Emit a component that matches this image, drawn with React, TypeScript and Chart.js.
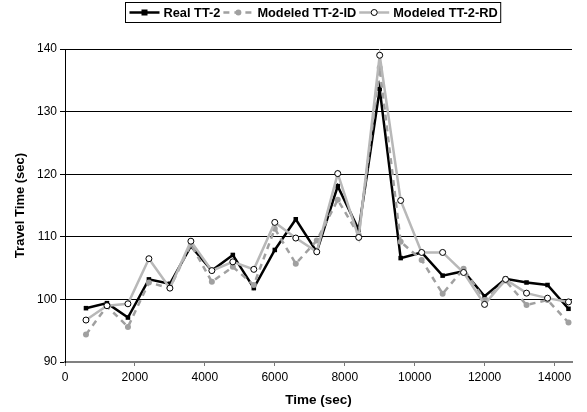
import React, { useEffect, useRef } from "react";
import { Chart, registerables } from "chart.js";

Chart.register(...registerables);

const times = [600, 1200, 1800, 2400, 3000, 3600, 4200, 4800, 5400, 6000, 6600, 7200, 7800, 8400, 9000, 9600, 10200, 10800, 11400, 12000, 12600, 13200, 13800, 14400];
const realTT2 = [98.6, 99.4, 97.1, 103.2, 102.5, 108.5, 104.6, 107.1, 101.8, 107.9, 112.8, 107.6, 118.1, 111.1, 133.6, 106.6, 107.5, 103.8, 104.5, 100.5, 103.3, 102.7, 102.3, 98.5];
const modeledID = [94.4, 98.9, 95.6, 102.7, 101.8, 108.8, 102.8, 105.2, 102.3, 111.3, 105.7, 109.4, 115.9, 110.3, 137.0, 109.2, 106.3, 100.9, 104.9, 99.9, 103.0, 99.1, 99.9, 96.3];
const modeledRD = [96.7, 99.0, 99.3, 106.5, 101.8, 109.3, 104.6, 106.0, 104.8, 112.3, 109.8, 107.6, 120.1, 109.9, 139.0, 115.8, 107.5, 107.5, 104.3, 99.2, 103.2, 101.0, 100.2, 99.6];
const seriesNames = ["Real TT-2", "Modeled TT-2-ID", "Modeled TT-2-RD"];
const xTickValues = [0, 2000, 4000, 6000, 8000, 10000, 12000, 14000];

const FONT = "'Liberation Sans', Arial, sans-serif";

const legendPlugin = {
  id: "boxLegend",
  afterDraw(chart: any) {
    const ctx = chart.ctx as CanvasRenderingContext2D;
    ctx.save();
    const legendFont = `bold 12.8px ${FONT}`;
    ctx.font = legendFont;
    const sample = 30;
    const gapAfterSample = 4;
    const gapAfterText = 3;
    const widths = seriesNames.map((n) => ctx.measureText(n).width);
    const total = widths.reduce((a, w) => a + sample + gapAfterSample + w + gapAfterText, 0) + 4;
    const cx = 313;
    const left = Math.round(cx - total / 2) + 0.5;
    const top = 2.5;
    const h = 20;
    ctx.fillStyle = "#fff";
    ctx.fillRect(left, top, total, h);
    ctx.strokeStyle = "#000";
    ctx.lineWidth = 1;
    ctx.strokeRect(left, top, total, h);
    const y = top + h / 2;
    let x = left + 4;
    chart.data.datasets.forEach((ds: any, i: number) => {
      ctx.save();
      ctx.strokeStyle = ds.borderColor;
      ctx.lineWidth = ds.borderWidth;
      ctx.setLineDash(ds.borderDash || []);
      ctx.beginPath();
      ctx.moveTo(x, y);
      ctx.lineTo(x + sample, y);
      ctx.stroke();
      ctx.setLineDash([]);
      const mx = x + sample / 2;
      ctx.fillStyle = ds.pointBackgroundColor;
      ctx.strokeStyle = ds.pointBorderColor;
      ctx.lineWidth = ds.pointBorderWidth;
      if (ds.pointStyle === "rect") {
        ctx.fillRect(mx - 3, y - 3, 6, 6);
      } else {
        ctx.beginPath();
        ctx.arc(mx, y, ds.pointRadius, 0, Math.PI * 2);
        ctx.fill();
        if (ds.pointBorderWidth > 0) ctx.stroke();
      }
      ctx.restore();
      x += sample + gapAfterSample;
      ctx.fillStyle = "#000";
      ctx.font = legendFont;
      ctx.textBaseline = "middle";
      ctx.textAlign = "left";
      ctx.fillText(seriesNames[i], x, y + 0.5);
      x += widths[i] + gapAfterText;
    });
    ctx.restore();
  },
};

export default function App() {
  const ref = useRef<HTMLCanvasElement>(null);
  useEffect(() => {
    document.body.style.margin = "0";
    const canvas = ref.current!;
    const toPts = (vals: number[]) => times.map((t, i) => ({ x: t, y: vals[i] }));
    const chart = new Chart(canvas, {
      type: "line",
      data: {
        datasets: [
          {
            label: seriesNames[0],
            data: toPts(realTT2),
            borderColor: "#000",
            borderWidth: 2.5,
            pointStyle: "rect",
            pointRadius: 3.2,
            pointBackgroundColor: "#000",
            pointBorderColor: "#000",
            pointBorderWidth: 0,
            tension: 0,
            order: 3,
          } as any,
          {
            label: seriesNames[1],
            data: toPts(modeledID),
            borderColor: "#a0a0a0",
            borderWidth: 2.5,
            borderDash: [6, 5],
            pointStyle: "circle",
            pointRadius: 3,
            pointBackgroundColor: "#a0a0a0",
            pointBorderColor: "#a0a0a0",
            pointBorderWidth: 0,
            tension: 0,
            order: 2,
          } as any,
          {
            label: seriesNames[2],
            data: toPts(modeledRD),
            borderColor: "#b8b8b8",
            borderWidth: 2.5,
            pointStyle: "circle",
            pointRadius: 3,
            pointBackgroundColor: "#fff",
            pointBorderColor: "#000",
            pointBorderWidth: 1,
            tension: 0,
            order: 1,
          } as any,
        ],
      },
      options: {
        responsive: false,
        animation: false,
        layout: { padding: { top: 49, right: 15, left: 0, bottom: 0 } },
        plugins: { legend: { display: false }, tooltip: { enabled: false } },
        scales: {
          x: {
            type: "linear",
            min: 0,
            max: 14500,
            afterBuildTicks: (scale: any) => {
              scale.ticks = xTickValues.map((v) => ({ value: v }));
            },
            afterFit: (scale: any) => {
              scale.height = 50;
            },
            ticks: {
              autoSkip: false,
              maxRotation: 0,
              padding: 4,
              color: "#000",
              font: { family: FONT, size: 12 },
              callback: (v: any) => String(v),
            },
            grid: {
              drawOnChartArea: false,
              drawTicks: true,
              tickLength: 4,
              color: "#777",
              lineWidth: 1,
            },
            border: { color: "#808080", width: 2 },
            title: {
              display: true,
              text: "Time (sec)",
              color: "#000",
              font: { family: FONT, size: 13.5, weight: "bold" },
              padding: { top: 0, bottom: 4 },
            },
          },
          y: {
            min: 90,
            max: 140,
            afterFit: (scale: any) => {
              scale.width = 65;
            },
            ticks: {
              stepSize: 10,
              padding: 3,
              color: "#000",
              font: { family: FONT, size: 12 },
            },
            grid: {
              color: "#000",
              lineWidth: 1,
              tickLength: 5,
            },
            border: { color: "#000", width: 1 },
            title: {
              display: true,
              text: "Travel Time (sec)",
              color: "#000",
              font: { family: FONT, size: 13, weight: "bold" },
              padding: { top: 13, bottom: 0 },
            },
          },
        },
      },
      plugins: [legendPlugin],
    });
    return () => chart.destroy();
  }, []);
  return <canvas ref={ref} width={587} height={412} />;
}
